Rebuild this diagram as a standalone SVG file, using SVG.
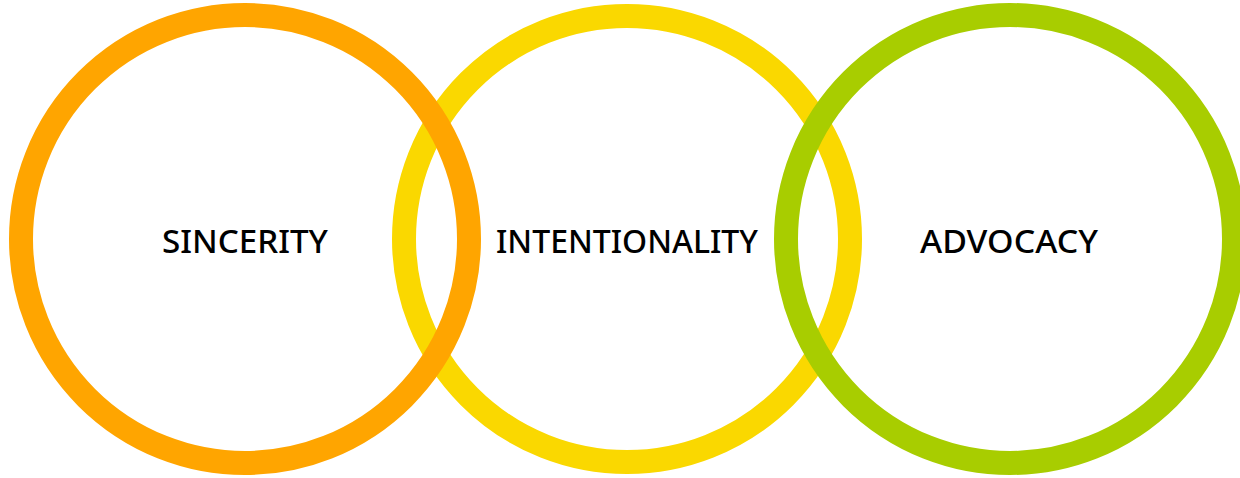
<svg xmlns="http://www.w3.org/2000/svg" width="1240" height="478" viewBox="0 0 1240 478">
<style>
.ring{fill:none;stroke-width:24}
.lbl{font-family:"Noto Sans","Open Sans",sans-serif;font-size:33px;font-weight:500;fill:#000;text-anchor:middle}
</style>
<rect width="1240" height="478" fill="#fff"/>
<g id="intentionality"><circle class="ring" cx="627" cy="239" r="223" stroke="#FAD800"/><text class="lbl" x="627" y="253" textLength="262" lengthAdjust="spacingAndGlyphs">INTENTIONALITY</text></g>
<g id="sincerity"><circle class="ring" cx="245" cy="239" r="224" stroke="#FFA500"/><text class="lbl" x="245" y="253" textLength="166" lengthAdjust="spacingAndGlyphs">SINCERITY</text></g>
<g id="advocacy"><circle class="ring" cx="1010" cy="239" r="224" stroke="#A8CD00"/><text class="lbl" x="1009" y="253" textLength="178" lengthAdjust="spacingAndGlyphs">ADVOCACY</text></g>
</svg>
